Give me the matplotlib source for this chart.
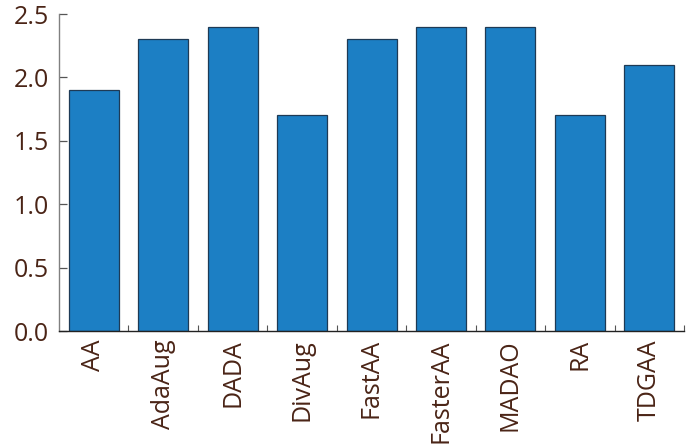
import matplotlib
matplotlib.use("Agg")
import matplotlib.pyplot as plt
from matplotlib.ticker import FixedLocator

categories = ["AA", "AdaAug", "DADA", "DivAug", "FastAA", "FasterAA", "MADAO", "RA", "TDGAA"]
values = [1.9, 2.3, 2.4, 1.7, 2.3, 2.4, 2.4, 1.7, 2.1]
yticks = [0.0, 0.5, 1.0, 1.5, 2.0, 2.5]
ytick_labels = ["0.0", "0.5", "1.0", "1.5", "2.0", "2.5"]

plt.rcParams['font.family'] = ['Open Sans', 'DejaVu Sans']
text_color = '#4a2416'

fig = plt.figure(figsize=(6.89, 4.44), dpi=100)
ax = fig.add_axes([59/689, 1 - 331/444, (684-59)/689, (331-14)/444])

x = list(range(len(categories)))
ax.bar(x, values, width=0.72, color='#1c7fc4', edgecolor='#1e3a55', linewidth=0.9)

ax.set_xlim(-0.5, len(categories) - 0.5)
ax.set_ylim(0, 2.5)
ax.set_xticks(x)
ax.set_xticklabels(categories, rotation=90, fontsize=18, color=text_color)
ax.xaxis.set_minor_locator(FixedLocator([i + 0.5 for i in range(len(categories))]))
ax.tick_params(axis='x', which='major', length=0, pad=6)
ax.tick_params(axis='x', which='minor', direction='in', length=4, color='#555555', width=0.8)
ax.set_yticks(yticks)
ax.set_yticklabels(ytick_labels, fontsize=18, color=text_color)
ax.tick_params(axis='y', direction='in', length=6, color='#555555', width=0.9, pad=7)

for s in ['top', 'right']:
    ax.spines[s].set_visible(False)
ax.spines['left'].set_color('#808080')
ax.spines['left'].set_linewidth(1.0)
ax.spines['bottom'].set_color('#222222')
ax.spines['bottom'].set_linewidth(1.0)

fig.savefig('out.png', dpi=100)
